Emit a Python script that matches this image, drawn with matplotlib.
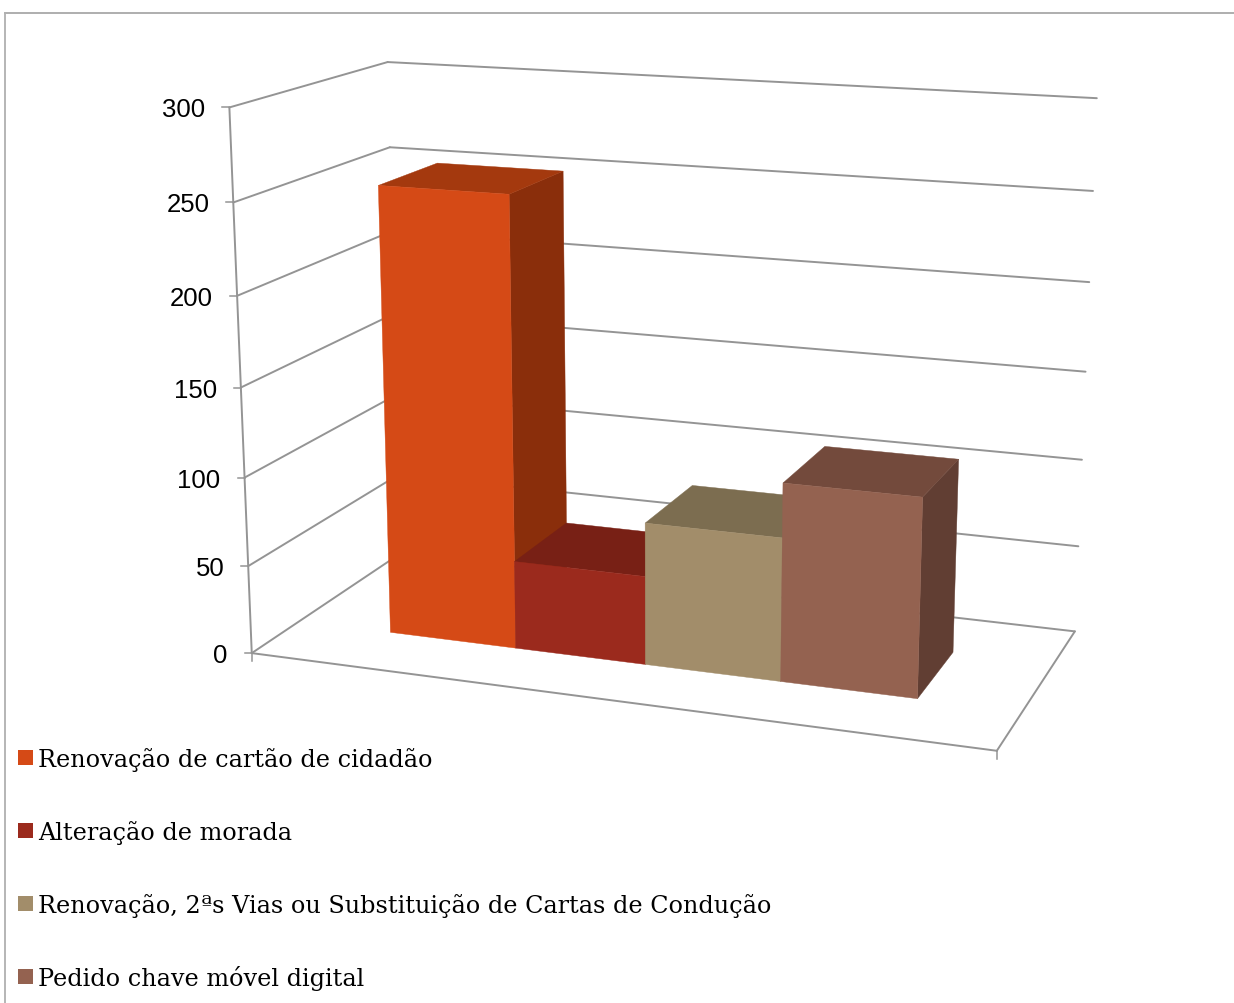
#!/usr/bin/env python3
"""Excel style 3D column chart, drawn on a flat axes with a small camera model."""

import numpy as np
import matplotlib
matplotlib.use('Agg')
import matplotlib.pyplot as plt
from matplotlib.patches import Polygon, Rectangle

# Data
labels = [
    'Renovação de cartão de cidadão',
    'Alteração de morada',
    'Renovação, 2ªs Vias ou Substituição de Cartas de Condução',
    'Pedido chave móvel digital',
]
values = [253, 50, 80, 110]
y_ticks = [0, 50, 100, 150, 200, 250, 300]

# Face colours per series: front, top, side
front_colors = ['#D54A16', '#9B2A1D', '#A28D6A', '#946250']
top_colors = ['#A4390E', '#782015', '#7C6D50', '#734A3C']
side_colors = ['#8A2E0B', '#6A1C12', '#6E6047', '#613E33']

# Layout of the box: bar edges along the floor, and bar depth
bar_edges = [0.1359, 0.3185, 0.5013, 0.6857, 0.8660]
depth_front, depth_back = 0.30, 0.70

# Camera calibration: (across, value, depth) -> pixel
calib_in = np.array([
    (0, 300, 1), (1, 300, 1), (1, 0, 1), (0, 0, 0), (0, 300, 0), (1, 0, 0),
    (0, 0, 1), (0, 250, 1), (1, 150, 1), (0, 50, 0), (0, 150, 0), (1, 250, 1),
], dtype=float)
calib_out = np.array([
    (388, 63), (1097, 99), (1075, 632), (253, 654), (229, 109), (997, 752),
    (400, 555), (390, 148), (1085, 373), (247, 567), (241, 388), (1093, 192),
], dtype=float)


def fit_camera(pts, pix):
    """Least squares projective matrix, last entry fixed to 1"""
    rows, rhs = [], []
    for (a, b, c), (u, v) in zip(pts, pix):
        rows.append([a, b, c, 1, 0, 0, 0, 0, -u * a, -u * b, -u * c])
        rows.append([0, 0, 0, 0, a, b, c, 1, -v * a, -v * b, -v * c])
        rhs += [u, v]
    sol = np.linalg.lstsq(np.array(rows), np.array(rhs), rcond=None)[0]
    return np.append(sol, 1).reshape(3, 4)


cam = fit_camera(calib_in, calib_out)


def project(across, value, depth):
    x, y, w = cam @ np.array([across, value, depth, 1.0])
    return x / w, y / w


def line3d(ax, a, b, color='#949494', lw=1.4):
    (x0, y0), (x1, y1) = project(*a), project(*b)
    ax.plot([x0, x1], [y0, y1], color=color, lw=lw, solid_capstyle='round', zorder=2)


def face(ax, corners, color):
    ax.add_patch(Polygon([project(*c) for c in corners], closed=True, facecolor=color,
                         edgecolor=color, lw=0.3, zorder=3))


fig = plt.figure(figsize=(12.34, 10.04), dpi=100)
ax = fig.add_axes([0, 0, 1, 1])
ax.set_xlim(0, 1234)
ax.set_ylim(1004, 0)
ax.axis('off')

# Outer frame, only top and left show
ax.plot([5, 1234], [13.5, 13.5], color='#a8a8a8', lw=1.3)
ax.plot([5, 5], [13.5, 1004], color='#b0b0b0', lw=1.3)

# Gridlines on back wall and side wall, ticks on the value axis
for tick in y_ticks:
    line3d(ax, (0, tick, 0), (0, tick, 1))
    line3d(ax, (0, tick, 1), (1, tick, 1))
    x, y = project(0, tick, 0)
    ax.plot([x - 7, x], [y, y], color='#949494', lw=1.1, zorder=2)
    ax.text(x - 24, y + 2, str(tick), ha='right', va='center', fontsize=18.5,
            family='Liberation Sans', color='black')

# Floor edges and the axes
line3d(ax, (0, 300, 0), (0, 0, 0))
line3d(ax, (0, 0, 0), (1, 0, 0))
line3d(ax, (1, 0, 0), (1, 0, 1))
for across in (0, 1):
    x, y = project(across, 0, 0)
    ax.plot([x, x], [y, y + 8], color='#949494', lw=1.1, zorder=2)

# Bars, left to right so nearer ones cover the others
d0, d1 = depth_front, depth_back
for i, val in enumerate(values):
    a, b = bar_edges[i], bar_edges[i + 1]
    face(ax, [(b, 0, d0), (b, 0, d1), (b, val, d1), (b, val, d0)], side_colors[i])
    face(ax, [(a, val, d0), (b, val, d0), (b, val, d1), (a, val, d1)], top_colors[i])
    face(ax, [(a, 0, d0), (b, 0, d0), (b, val, d0), (a, val, d0)], front_colors[i])

# Legend, stacked under the chart
legend_y = [767, 840, 913, 986]
for label, color, y in zip(labels, front_colors, legend_y):
    ax.add_patch(Rectangle((18, y - 16), 15, 15, facecolor=color, edgecolor='none'))
    ax.text(38, y, label, ha='left', va='baseline', fontsize=17.2,
            family='DejaVu Serif', color='black')

plt.savefig('out.png', dpi=100)
plt.close()
